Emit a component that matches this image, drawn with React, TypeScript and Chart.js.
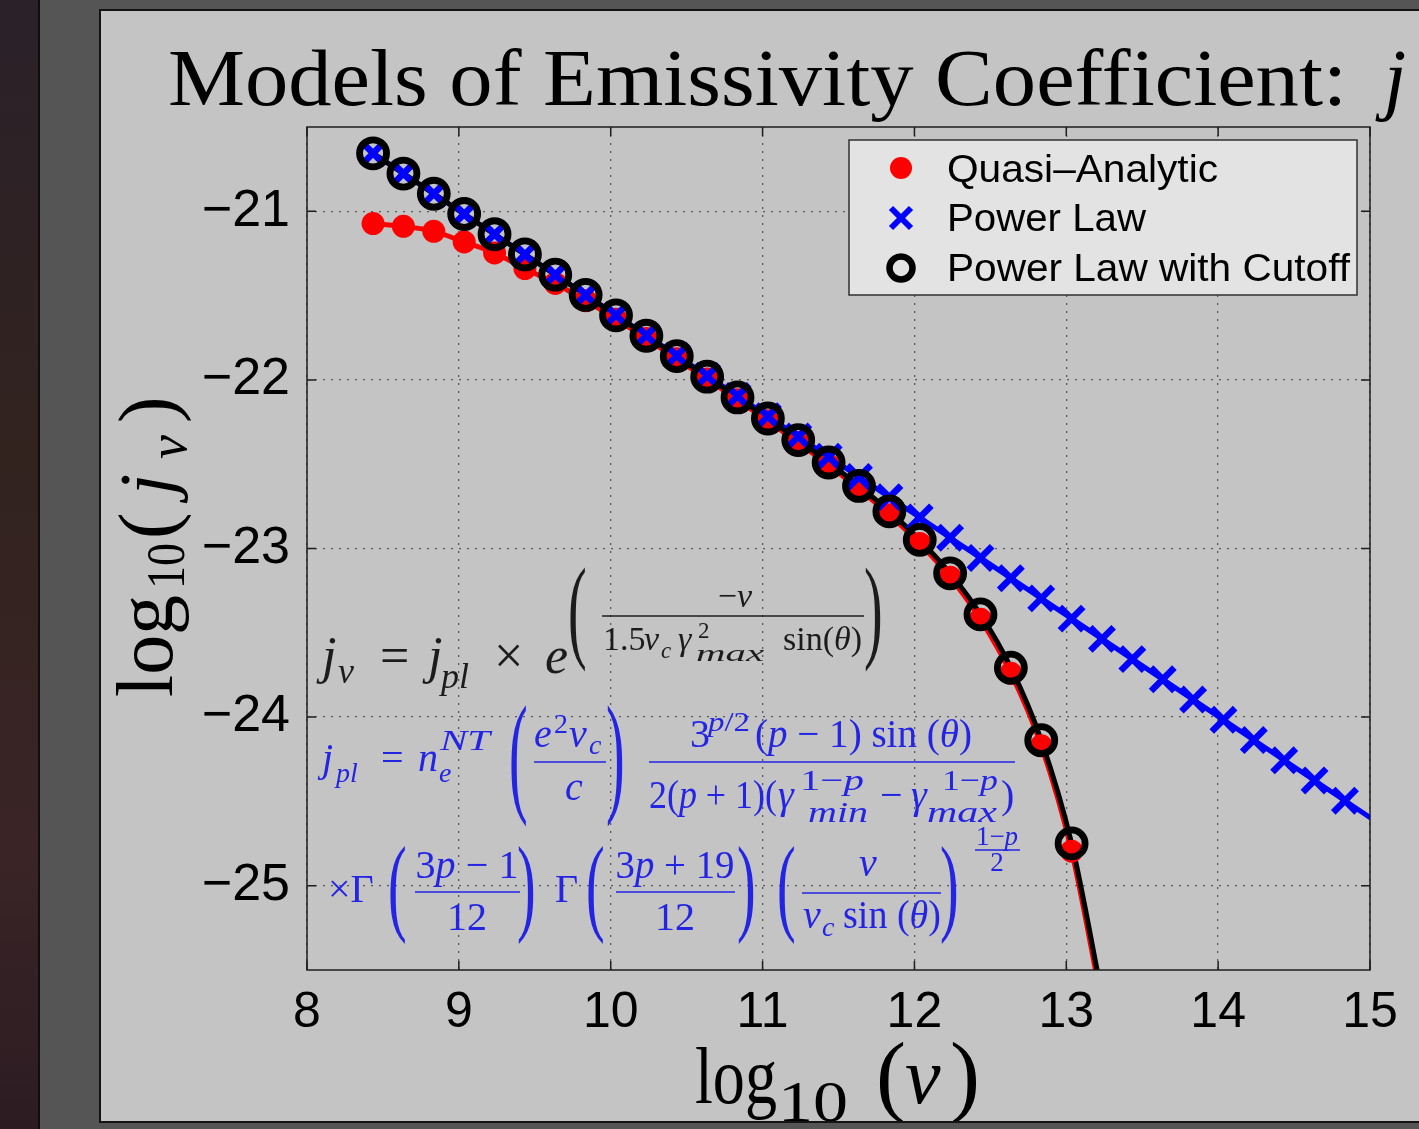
import React, { useEffect, useRef } from 'react';
import { Chart, registerables } from 'chart.js';

Chart.register(...registerables);

// ---------- data ----------
const logNu = [
  8.435, 8.635, 8.835, 9.035, 9.235, 9.435, 9.635, 9.835, 10.035, 10.235, 10.435,
  10.635, 10.835, 11.035, 11.235, 11.435, 11.635, 11.835, 12.035, 12.235, 12.435,
  12.635, 12.835, 13.035, 13.235, 13.435, 13.635, 13.835, 14.035, 14.235, 14.435,
  14.635, 14.835,
];
const powerLaw = [
  -20.656, -20.776, -20.896, -21.016, -21.136, -21.256, -21.376, -21.496, -21.616,
  -21.736, -21.856, -21.976, -22.096, -22.216, -22.336, -22.456, -22.576, -22.696,
  -22.816, -22.936, -23.056, -23.176, -23.296, -23.416, -23.536, -23.656, -23.776,
  -23.896, -24.016, -24.136, -24.256, -24.376, -24.496,
];
const quasiAnalytic = [
  -21.073, -21.089, -21.119, -21.182, -21.247, -21.34, -21.428, -21.53, -21.64,
  -21.755, -21.875, -21.995, -22.118, -22.243, -22.372, -22.506, -22.647, -22.8,
  -22.97, -23.17, -23.42, -23.74, -24.17, -24.795,
];
const powerLawCutoff = [
  -20.656, -20.776, -20.896, -21.016, -21.136, -21.256, -21.376, -21.496, -21.617,
  -21.738, -21.859, -21.981, -22.104, -22.229, -22.357, -22.49, -22.629, -22.78,
  -22.949, -23.147, -23.391, -23.707, -24.137, -24.749,
];
// curve continuations beyond the last marker (leave the plot frame)
const cutoffTailNu = [13.235];
const quasiTail = [-25.7];
const cutoffTail = [-25.648];
const powerLawTailNu = [15.035];
const powerLawTail = [-24.617];

const xTickValues = [8, 9, 10, 11, 12, 13, 14, 15];
const xTickLabels = ['8', '9', '10', '11', '12', '13', '14', '15'];
const yTickValues = [-25, -24, -23, -22, -21];
const yTickLabels = ['\u221225', '\u221224', '\u221223', '\u221222', '\u221221'];

const seriesNames = ['Quasi\u2013Analytic', 'Power Law', 'Power Law with Cutoff'];

// ---------- styles ----------
const RED = '#ff0000';
const BLUE = '#0000ff';
const BLACK = '#000000';
const MATHBLUE = '#2424e4';
const SERIF = "'Liberation Serif', 'DejaVu Serif', serif";
const SANS = "'Liberation Sans', Arial, sans-serif";

const pts = (xs: number[], ys: number[]) => ys.map((y, i) => ({ x: xs[i], y }));

const framePlugin = {
  id: 'frame',
  afterDraw(chart: any) {
    const { ctx, chartArea: a, scales } = chart;
    const x = scales.x;
    const y = scales.y;
    ctx.save();
    ctx.strokeStyle = '#1e1e1e';
    ctx.lineWidth = 1.5;
    ctx.strokeRect(a.left, a.top, a.right - a.left, a.bottom - a.top);
    ctx.beginPath();
    const L = 9;
    xTickValues.forEach((v) => {
      const px = x.getPixelForValue(v);
      ctx.moveTo(px, a.bottom);
      ctx.lineTo(px, a.bottom - L);
      ctx.moveTo(px, a.top);
      ctx.lineTo(px, a.top + L);
    });
    yTickValues.forEach((v) => {
      const py = y.getPixelForValue(v);
      ctx.moveTo(a.left, py);
      ctx.lineTo(a.left + L, py);
      ctx.moveTo(a.right, py);
      ctx.lineTo(a.right - L, py);
    });
    ctx.stroke();
    ctx.restore();
  },
};

function Tx(props: any) {
  const { x, y, s, i, fill, anchor, len, children, weight } = props;
  return (
    <text
      x={x}
      y={y}
      fontSize={s}
      fontFamily={SERIF}
      fontStyle={i ? 'italic' : 'normal'}
      fontWeight={weight || 'normal'}
      fill={fill}
      textAnchor={anchor || 'start'}
      textLength={len}
      lengthAdjust={len ? 'spacingAndGlyphs' : undefined}
    >
      {children}
    </text>
  );
}

function BigParen({ x, top, bottom, ch, fill }: any) {
  const s = 40;
  const k = (bottom - top) / (0.88 * s);
  const base = top + 0.7 * s * k;
  return (
    <text
      transform={`translate(${x} ${base}) scale(1.4 ${k})`}
      x={0}
      y={0}
      fontSize={s}
      fontFamily={SERIF}
      fill={fill}
    >
      {ch}
    </text>
  );
}

const It = ({ children }: any) => <tspan fontStyle="italic">{children}</tspan>;

function Overlay() {
  const K = '#1c1c1c';
  const B = MATHBLUE;
  return (
    <svg
      width={1419}
      height={1129}
      style={{ position: 'absolute', left: 0, top: 0, pointerEvents: 'none' }}
    >
      <defs>
        <clipPath id="panelClip">
          <rect x={101} y={11} width={1330} height={1110} />
        </clipPath>
      </defs>
      <g clipPath="url(#panelClip)">
        {/* title */}
        <Tx x={168} y={105} s={80} fill="#000" len={1179}>
          Models of Emissivity Coefficient:
        </Tx>
        <Tx x={1384} y={105} s={80} i fill="#000">j</Tx>

        {/* y axis label */}
        <g transform="translate(172 697) rotate(-90)">
          <Tx x={0} y={0} s={80} fill="#000" len={102}>log</Tx>
          <Tx x={108} y={12} s={54} fill="#000" len={46}>10</Tx>
          <Tx x={158} y={2} s={80} fill="#000">(</Tx>
          <Tx x={202} y={0} s={76} i fill="#000">j</Tx>
          <Tx x={238} y={14} s={54} i fill="#000">ν</Tx>
          <Tx x={274} y={2} s={80} fill="#000">)</Tx>
        </g>

        {/* x axis label */}
        <Tx x={695} y={1103} s={80} fill="#000" len={82}>log</Tx>
        <Tx x={778} y={1121} s={56} fill="#000" len={70}>10</Tx>
        <Tx x={876} y={1105} s={90} fill="#000">(</Tx>
        <Tx x={905} y={1103} s={80} i fill="#000">ν</Tx>
        <Tx x={950} y={1105} s={90} fill="#000">)</Tx>

        {/* legend */}
        <rect x={849} y={140} width={508} height={155} fill="#e3e3e3" stroke="#303030" strokeWidth={1.5} />
        <circle cx={901} cy={168} r={11} fill={RED} />
        <line x1={891} y1={208} x2={911} y2={228} stroke={BLUE} strokeWidth={6} />
        <line x1={911} y1={208} x2={891} y2={228} stroke={BLUE} strokeWidth={6} />
        <circle cx={901} cy={268} r={11.5} fill="none" stroke={BLACK} strokeWidth={6.5} />
        <text x={947} y={182} fontSize={39} fontFamily={SANS} fill="#000" textLength={271} lengthAdjust="spacingAndGlyphs">{seriesNames[0]}</text>
        <text x={947} y={231} fontSize={39} fontFamily={SANS} fill="#000" textLength={199} lengthAdjust="spacingAndGlyphs">{seriesNames[1]}</text>
        <text x={947} y={281} fontSize={39} fontFamily={SANS} fill="#000" textLength={403} lengthAdjust="spacingAndGlyphs">{seriesNames[2]}</text>

        {/* formula 1 */}
        <Tx x={322} y={673} s={52} i fill={K}>j</Tx>
        <Tx x={338} y={683} s={36} i fill={K}>ν</Tx>
        <Tx x={380} y={673} s={52} fill={K}>=</Tx>
        <Tx x={428} y={673} s={52} i fill={K}>j</Tx>
        <Tx x={441} y={688} s={36} i fill={K}>pl</Tx>
        <Tx x={494} y={673} s={52} fill={K}>×</Tx>
        <Tx x={545} y={673} s={52} i fill={K}>e</Tx>
        <BigParen x={568} top={567} bottom={667} ch="(" fill={K} />
        <Tx x={735} y={607} s={34} anchor="middle" fill={K}>−<It>ν</It></Tx>
        <line x1={602} y1={616} x2={864} y2={616} stroke={K} strokeWidth={1.5} />
        <Tx x={603} y={650} s={34} fill={K}>1.5</Tx>
        <Tx x={644} y={650} s={34} i fill={K}>ν</Tx>
        <Tx x={661} y={658} s={23} i fill={K}>c</Tx>
        <Tx x={678} y={650} s={34} i fill={K}>γ</Tx>
        <Tx x={698} y={638} s={23} fill={K}>2</Tx>
        <Tx x={696} y={661} s={24} i fill={K} len={68}>max</Tx>
        <Tx x={783} y={650} s={34} fill={K} len={79}>sin(<It>θ</It>)</Tx>
        <BigParen x={864} top={567} bottom={667} ch=")" fill={K} />

        {/* formula 2 */}
        <Tx x={322} y={771} s={40} i fill={B}>j</Tx>
        <Tx x={336} y={782} s={28} i fill={B}>pl</Tx>
        <Tx x={381} y={771} s={40} fill={B}>=</Tx>
        <Tx x={418} y={771} s={40} i fill={B}>n</Tx>
        <Tx x={439} y={782} s={28} i fill={B}>e</Tx>
        <Tx x={440} y={750} s={30} i fill={B} len={50}>NT</Tx>
        <BigParen x={509} top={705} bottom={822} ch="(" fill={B} />
        <Tx x={534} y={747} s={40} i fill={B}>e</Tx>
        <Tx x={554} y={733} s={28} fill={B}>2</Tx>
        <Tx x={569} y={747} s={40} i fill={B}>ν</Tx>
        <Tx x={589} y={754} s={28} i fill={B}>c</Tx>
        <line x1={534} y1={762} x2={606} y2={762} stroke={B} strokeWidth={1.6} />
        <Tx x={565} y={800} s={40} i fill={B}>c</Tx>
        <BigParen x={606} top={705} bottom={822} ch=")" fill={B} />
        <Tx x={690} y={747} s={40} fill={B}>3</Tx>
        <Tx x={708} y={731} s={28} fill={B} len={42}><It>p</It>/2</Tx>
        <Tx x={755} y={747} s={40} fill={B} len={217}>(<It>p</It> − 1) sin (<It>θ</It>)</Tx>
        <line x1={649} y1={762} x2={1015} y2={762} stroke={B} strokeWidth={1.6} />
        <Tx x={649} y={808} s={40} fill={B} len={128}>2(<It>p</It> + 1)(</Tx>
        <Tx x={778} y={808} s={40} i fill={B}>γ</Tx>
        <Tx x={800} y={790} s={30} fill={B} len={64}>1−<It>p</It></Tx>
        <Tx x={808} y={822} s={30} i fill={B} len={60}>min</Tx>
        <Tx x={880} y={808} s={40} fill={B}>−</Tx>
        <Tx x={911} y={808} s={40} i fill={B}>γ</Tx>
        <Tx x={942} y={790} s={30} fill={B} len={56}>1−<It>p</It></Tx>
        <Tx x={927} y={822} s={30} i fill={B} len={70}>max</Tx>
        <Tx x={1001} y={808} s={40} fill={B}>)</Tx>

        {/* formula 3 */}
        <Tx x={328} y={902} s={40} fill={B}>×Γ</Tx>
        <BigParen x={388} top={845} bottom={940} ch="(" fill={B} />
        <Tx x={467} y={878} s={40} anchor="middle" fill={B} len={103}>3<It>p</It> − 1</Tx>
        <line x1={415} y1={892} x2={520} y2={892} stroke={B} strokeWidth={1.6} />
        <Tx x={467} y={930} s={40} anchor="middle" fill={B}>12</Tx>
        <BigParen x={517} top={845} bottom={940} ch=")" fill={B} />
        <Tx x={555} y={902} s={40} fill={B}>Γ</Tx>
        <BigParen x={586} top={845} bottom={940} ch="(" fill={B} />
        <Tx x={675} y={878} s={40} anchor="middle" fill={B} len={119}>3<It>p</It> + 19</Tx>
        <line x1={616} y1={892} x2={735} y2={892} stroke={B} strokeWidth={1.6} />
        <Tx x={675} y={930} s={40} anchor="middle" fill={B}>12</Tx>
        <BigParen x={737} top={845} bottom={940} ch=")" fill={B} />
        <BigParen x={777} top={845} bottom={940} ch="(" fill={B} />
        <Tx x={868} y={876} s={40} i anchor="middle" fill={B}>ν</Tx>
        <line x1={802} y1={893} x2={941} y2={893} stroke={B} strokeWidth={1.6} />
        <Tx x={803} y={928} s={40} i fill={B}>ν</Tx>
        <Tx x={822} y={936} s={28} i fill={B}>c</Tx>
        <Tx x={843} y={928} s={40} fill={B} len={98}>sin (<It>θ</It>)</Tx>
        <BigParen x={940} top={845} bottom={940} ch=")" fill={B} />
        <Tx x={997} y={845} s={27} anchor="middle" fill={B}>1−<It>p</It></Tx>
        <line x1={975} y1={850} x2={1020} y2={850} stroke={B} strokeWidth={1.3} />
        <Tx x={997} y={871} s={27} anchor="middle" fill={B}>2</Tx>
      </g>
    </svg>
  );
}

export default function App() {
  const canvasRef = useRef<HTMLCanvasElement | null>(null);

  useEffect(() => {
    document.body.style.margin = '0';
    const canvas = canvasRef.current;
    if (!canvas) return;

    const quasiCurve = [...pts(logNu, quasiAnalytic), ...pts(cutoffTailNu, quasiTail)];
    const cutoffCurve = [...pts(logNu, powerLawCutoff), ...pts(cutoffTailNu, cutoffTail)];
    const plCurve = [...pts(logNu, powerLaw), ...pts(powerLawTailNu, powerLawTail)];

    const chart = new Chart(canvas, {
      type: 'scatter',
      data: {
        datasets: [
          {
            label: seriesNames[0] + ' curve',
            data: quasiCurve,
            showLine: true,
            borderColor: RED,
            backgroundColor: RED,
            borderWidth: 5,
            pointRadius: 0,
            cubicInterpolationMode: 'monotone',
            clip: 0,
            order: 6,
          },
          {
            label: seriesNames[1] + ' curve',
            data: plCurve,
            showLine: true,
            borderColor: BLUE,
            backgroundColor: BLUE,
            borderWidth: 5,
            pointRadius: 0,
            clip: 0,
            order: 5,
          },
          {
            label: seriesNames[2] + ' curve',
            data: cutoffCurve,
            showLine: true,
            borderColor: BLACK,
            backgroundColor: BLACK,
            borderWidth: 5,
            pointRadius: 0,
            cubicInterpolationMode: 'monotone',
            clip: 0,
            order: 4,
          },
          {
            label: seriesNames[0],
            data: pts(logNu, quasiAnalytic),
            showLine: false,
            pointStyle: 'circle',
            pointRadius: 11.5,
            pointBackgroundColor: RED,
            pointBorderWidth: 0,
            pointBorderColor: RED,
            clip: 0,
            order: 3,
          },
          {
            label: seriesNames[1],
            data: pts(logNu, powerLaw),
            showLine: false,
            pointStyle: 'crossRot',
            pointRadius: 16.5,
            pointBorderColor: BLUE,
            pointBackgroundColor: BLUE,
            pointBorderWidth: 6.5,
            clip: 0,
            order: 2,
          },
          {
            label: seriesNames[2],
            data: pts(logNu, powerLawCutoff),
            showLine: false,
            pointStyle: 'circle',
            pointRadius: 13.5,
            pointBorderColor: BLACK,
            pointBackgroundColor: 'rgba(0,0,0,0)',
            pointBorderWidth: 6.8,
            clip: 0,
            order: 1,
          },
        ] as any,
      },
      options: {
        responsive: false,
        maintainAspectRatio: false,
        devicePixelRatio: 1,
        animation: false,
        events: [],
        layout: { padding: { left: 100, right: 49, top: 127, bottom: 59 } },
        plugins: {
          legend: { display: false },
          tooltip: { enabled: false },
          title: { display: false },
        },
        scales: {
          x: {
            type: 'linear',
            min: 8,
            max: 15,
            afterBuildTicks: (scale: any) => {
              scale.ticks = xTickValues.map((v) => ({ value: v }));
            },
            afterFit: (scale: any) => {
              scale.height = 100;
            },
            grid: { color: 'rgba(70,70,70,0.85)', lineWidth: 1.3, drawTicks: false },
            border: { display: false, dash: [2, 6] },
            ticks: {
              autoSkip: false,
              maxRotation: 0,
              padding: 13,
              color: '#000',
              font: { family: SANS, size: 50 },
              callback: (v: any) => xTickLabels[xTickValues.indexOf(Number(v))],
            },
          },
          y: {
            type: 'linear',
            min: -25.5,
            max: -20.5,
            afterBuildTicks: (scale: any) => {
              scale.ticks = yTickValues.map((v) => ({ value: v }));
            },
            afterFit: (scale: any) => {
              scale.width = 207;
            },
            grid: { color: 'rgba(70,70,70,0.85)', lineWidth: 1.3, drawTicks: false },
            border: { display: false, dash: [2, 6] },
            ticks: {
              autoSkip: false,
              padding: 17,
              color: '#000',
              font: { family: SANS, size: 52 },
              callback: (v: any) => yTickLabels[yTickValues.indexOf(Number(v))],
            },
          },
        },
      } as any,
      plugins: [framePlugin],
    });
    return () => chart.destroy();
  }, []);

  return (
    <div
      style={{
        position: 'fixed',
        left: 0,
        top: 0,
        width: 1419,
        height: 1129,
        background: '#555555',
        overflow: 'hidden',
      }}
    >
      <div
        style={{
          position: 'absolute',
          left: 0,
          top: 0,
          width: 38,
          height: 1129,
          background: 'linear-gradient(180deg, #2a2129 0%, #32231f 40%, #3a2426 75%, #2c1c22 100%)',
        }}
      />
      <div style={{ position: 'absolute', left: 38, top: 0, width: 2, height: 1129, background: '#0e0e0e' }} />
      <div
        style={{
          position: 'absolute',
          left: 99,
          top: 9,
          width: 1400,
          height: 1114,
          boxSizing: 'border-box',
          background: '#c4c4c4',
          border: '2px solid #141414',
        }}
      />
      <canvas
        ref={canvasRef}
        width={1419}
        height={1129}
        style={{ position: 'absolute', left: 0, top: 0, width: 1419, height: 1129 }}
      />
      <Overlay />
    </div>
  );
}
